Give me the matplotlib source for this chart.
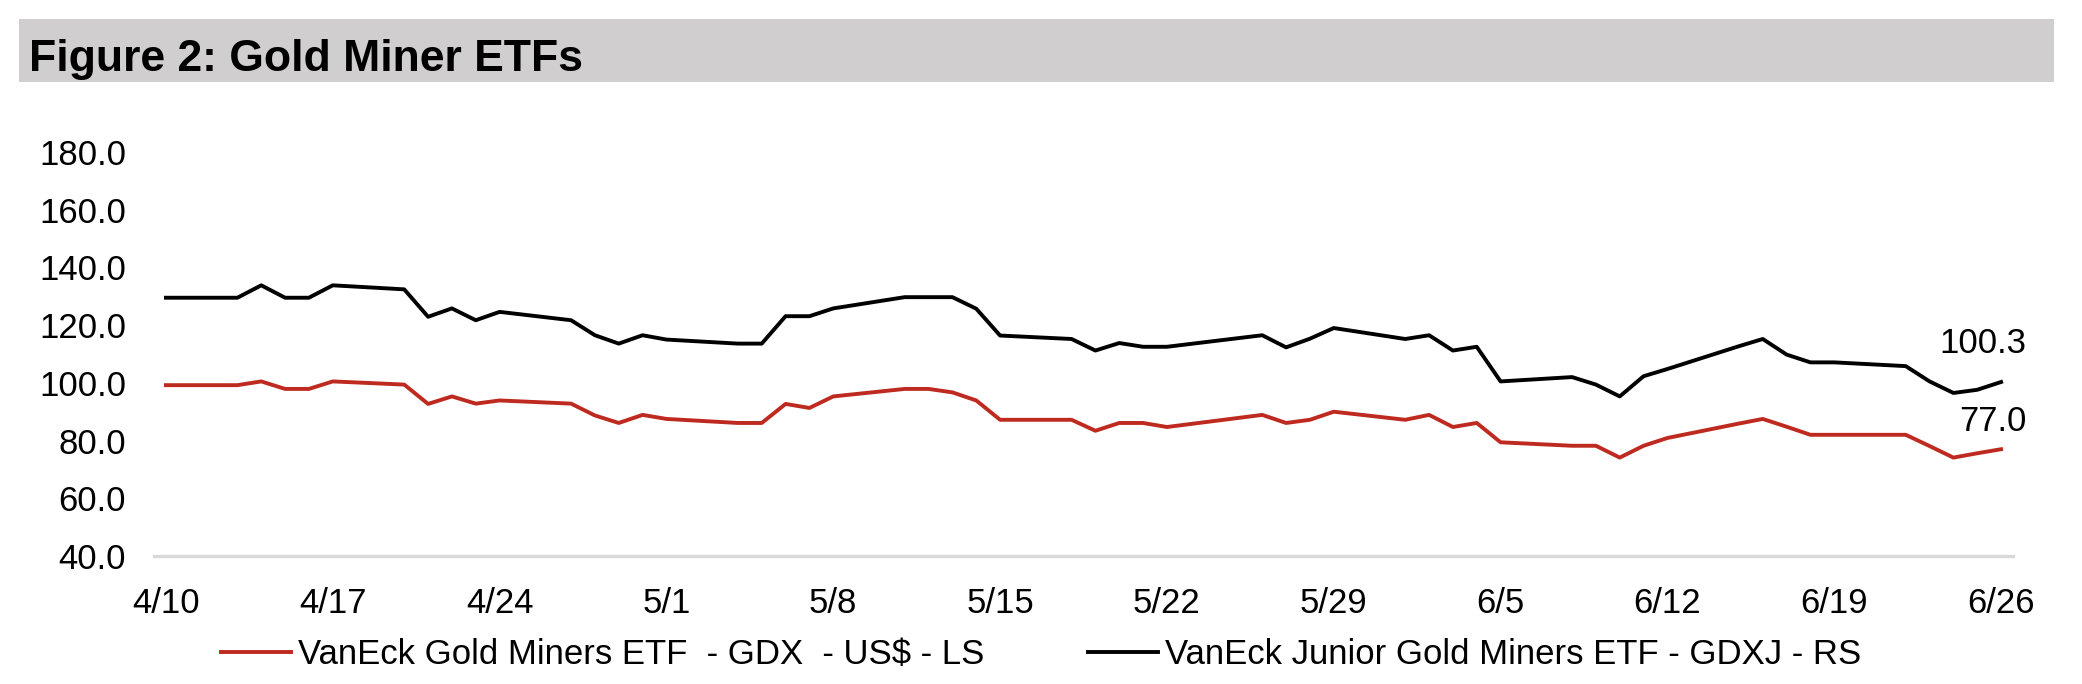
import matplotlib
matplotlib.use("Agg")
import matplotlib.pyplot as plt
import pandas as pd
from matplotlib.patches import Rectangle
from matplotlib.ticker import FuncFormatter

# ---------------- data ----------------
YEAR = 2015  # year not shown on chart; weekday pattern matches
trade_days = [
    "04-10",
    "04-13", "04-14", "04-15", "04-16", "04-17",
    "04-20", "04-21", "04-22", "04-23", "04-24",
    "04-27", "04-28", "04-29", "04-30", "05-01",
    "05-04", "05-05", "05-06", "05-07", "05-08",
    "05-11", "05-12", "05-13", "05-14", "05-15",
    "05-18", "05-19", "05-20", "05-21", "05-22",
    "05-26", "05-27", "05-28", "05-29",
    "06-01", "06-02", "06-03", "06-04", "06-05",
    "06-08", "06-09", "06-10", "06-11", "06-12",
    "06-15", "06-16", "06-17", "06-18", "06-19",
    "06-22", "06-23", "06-24", "06-25", "06-26",
]
gdx = [
    99.2,
    99.2, 100.5, 97.9, 97.9, 100.5,
    99.4, 92.7, 95.3, 92.8, 93.9,
    92.8, 88.7, 86.1, 88.9, 87.5,
    86.1, 86.1, 92.7, 91.3, 95.3,
    97.9, 97.9, 96.7, 93.9, 87.2,
    87.2, 83.4, 86.1, 86.1, 84.7,
    88.9, 86.1, 87.2, 90.0,
    87.2, 88.9, 84.7, 86.1, 79.4,
    78.2, 78.2, 74.1, 78.2, 80.9,
    85.9, 87.5, 84.8, 82.0, 82.0,
    82.0, 78.1, 74.1, 75.6, 77.0,
]
gdxj = [
    129.5,
    129.5, 133.8, 129.5, 129.5, 133.8,
    132.4, 122.9, 125.8, 121.7, 124.6,
    121.7, 116.5, 113.6, 116.5, 115.0,
    113.6, 113.6, 123.1, 123.1, 125.8,
    129.7, 129.7, 129.7, 125.7, 116.4,
    115.2, 111.2, 113.8, 112.5, 112.5,
    116.5, 112.3, 115.3, 119.0,
    115.2, 116.5, 111.2, 112.5, 100.5,
    102.0, 99.4, 95.3, 102.3, 104.8,
    112.7, 115.2, 109.8, 107.1, 107.1,
    105.8, 100.5, 96.5, 97.6, 100.3,
]
tick_days = ["04-10", "04-17", "04-24", "05-01", "05-08", "05-15",
             "05-22", "05-29", "06-05", "06-12", "06-19", "06-26"]
tick_labels = ["4/10", "4/17", "4/24", "5/1", "5/8", "5/15",
               "5/22", "5/29", "6/5", "6/12", "6/19", "6/26"]
series_labels = ["VanEck Gold Miners ETF  - GDX  - US$ - LS",
                 "VanEck Junior Gold Miners ETF - GDXJ - RS"]
title = "Figure 2: Gold Miner ETFs"

# ---------------- plot ----------------
FONT = ["Liberation Sans", "DejaVu Sans"]
plt.rcParams["font.family"] = FONT

W, H = 2082, 684
fig = plt.figure(figsize=(W / 100, H / 100), dpi=100)

# title bar
fig.patches.append(Rectangle((19 / W, 1 - 82 / H), (2054 - 19) / W, (82 - 18.6) / H,
                             transform=fig.transFigure, facecolor="#D0CECE",
                             edgecolor="none", zorder=0))
fig.text(29 / W, 1 - 71 / H, title, fontsize=32, fontweight="bold",
         va="baseline", ha="left", color="black")

ax = fig.add_axes([154 / W, (H - 556) / H, (2013 - 154) / W, (556 - 152) / H])

dates = pd.to_datetime([f"{YEAR}-{d}" for d in trade_days])
red = "#BE2A1F"
l1, = ax.plot(dates, gdx, color=red, lw=2.8, label=series_labels[0])
l2, = ax.plot(dates, gdxj, color="black", lw=2.8, label=series_labels[1])

ax.set_ylim(40, 180)
ax.set_yticks(range(40, 181, 20))
ax.yaxis.set_major_formatter(FuncFormatter(lambda v, p: f"{v:.1f}"))

half = pd.Timedelta(hours=12)
ax.set_xlim(dates[0] - half, dates[-1] + half)
ax.set_xticks(pd.to_datetime([f"{YEAR}-{d}" for d in tick_days]))
ax.set_xticklabels(tick_labels)

ax.tick_params(axis="both", length=0, labelsize=25)
ax.tick_params(axis="y", pad=20)
ax.tick_params(axis="x", pad=22)

for s in ("top", "left", "right"):
    ax.spines[s].set_visible(False)
ax.spines["bottom"].set_color("#D9D9D9")
ax.spines["bottom"].set_linewidth(2.4)

# end labels
ax.annotate(f"{gdxj[-1]:.1f}", xy=(dates[-1], gdxj[-1]), xytext=(25, 38),
            textcoords="offset pixels", ha="right", va="center", fontsize=25)
ax.annotate(f"{gdx[-1]:.1f}", xy=(dates[-1], gdx[-1]), xytext=(26, 28),
            textcoords="offset pixels", ha="right", va="center", fontsize=25)

fig.legend(handles=[l1, l2], loc="center", bbox_to_anchor=(1041 / W, 29 / H),
           ncol=2, frameon=False, fontsize=25, handlelength=2.0,
           handletextpad=0.2, columnspacing=3.0)

fig.savefig("out.png", dpi=100)
